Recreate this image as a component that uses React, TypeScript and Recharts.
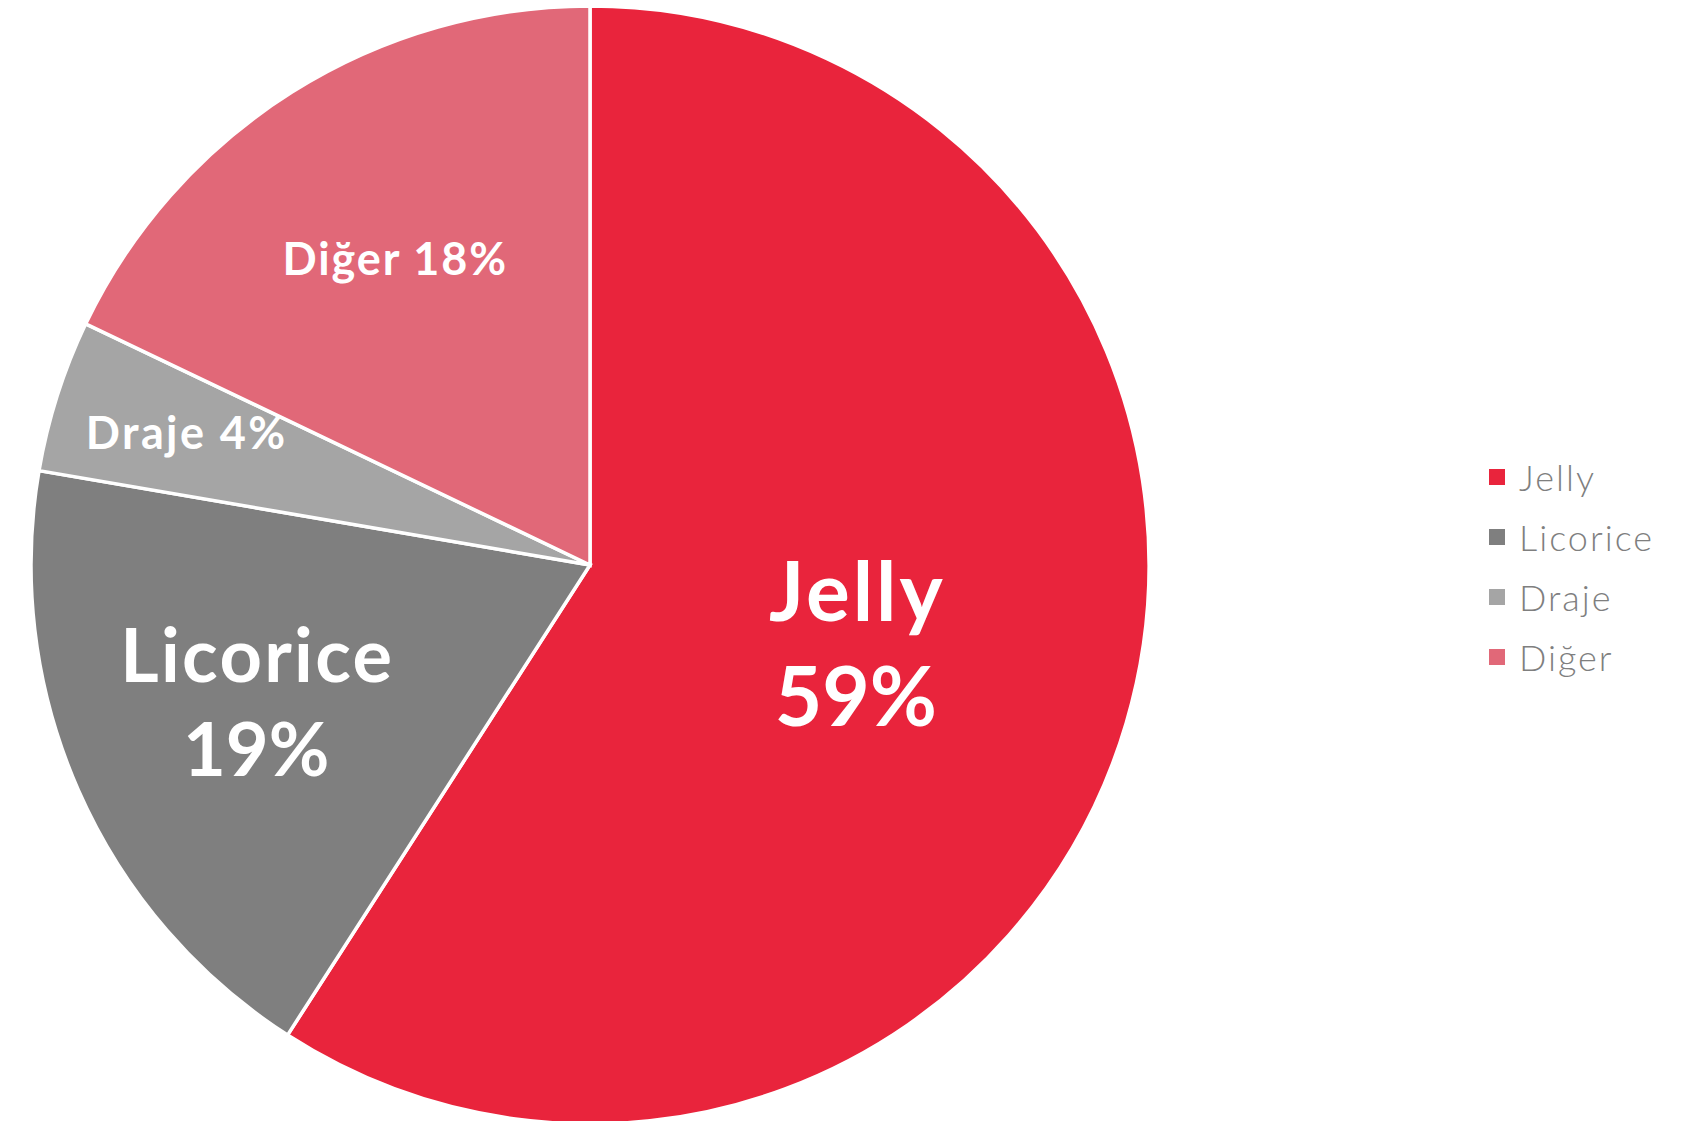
import React from 'react';
import { PieChart, Pie, Cell, Legend } from 'recharts';

const categories = ['Jelly', 'Licorice', 'Draje', 'Diğer'];
const shares = [59.1, 18.6, 4.4, 17.9];
const colors = ['#E9243C', '#7F7F7F', '#A5A5A5', '#E16878'];

// label layout per slice (radius fraction, angle nudge in degrees clockwise, font size, two-line)
const labelRadius = [0.495, 0.644, 0.762, 0.651];
const labelAngleNudge = [-0.3, 1.8, 0.6, -0.3];
const labelFont = [82, 74, 45, 45];
const labelNameSpacing = [3, 2.3, 2.4, 1.9];
const labelTwoLine = [true, true, false, false];
const labelGap = [105, 94, 0, 0];

const data = categories.map((name, i) => ({ name, value: shares[i] }));

const FONT = 'Lato, "Open Sans", sans-serif';
const RAD = Math.PI / 180;

const renderLabel = (props: any) => {
  const { cx, cy, midAngle, outerRadius, index, percent, name } = props;
  const r = outerRadius * labelRadius[index];
  const a = midAngle - labelAngleNudge[index];
  const x = cx + r * Math.cos(-a * RAD);
  const y = cy + r * Math.sin(-a * RAD);
  const pct = `${Math.round(percent * 100)}%`;
  const fs = labelFont[index];
  const ls = labelNameSpacing[index];
  if (labelTwoLine[index]) {
    const g = labelGap[index];
    return (
      <text
        x={x}
        y={y}
        fill="#FFFFFF"
        textAnchor="middle"
        dominantBaseline="central"
        fontFamily={FONT}
        fontWeight={700}
        fontSize={fs}
      >
        <tspan x={x + ls / 2} y={y - g / 2} letterSpacing={ls}>{name}</tspan>
        <tspan x={x} y={y + g / 2}>{pct}</tspan>
      </text>
    );
  }
  return (
    <text
      x={x + ls / 2}
      y={y}
      fill="#FFFFFF"
      textAnchor="middle"
      dominantBaseline="central"
      fontFamily={FONT}
      fontWeight={700}
      fontSize={fs}
      letterSpacing={ls}
    >
      {`${name} ${pct}`}
    </text>
  );
};

const renderLegend = (props: any) => {
  const payload = [...(props.payload || [])].sort(
    (a: any, b: any) => categories.indexOf(a.value) - categories.indexOf(b.value)
  );
  return (
    <ul style={{ listStyle: 'none', margin: 0, padding: 0 }}>
      {payload.map((entry: any, i: number) => (
        <li
          key={i}
          style={{
            display: 'flex',
            alignItems: 'center',
            height: 60,
            fontFamily: FONT,
            fontWeight: 300,
            fontSize: 36,
            letterSpacing: 2,
            color: '#7F7F7F',
          }}
        >
          <span
            style={{
              display: 'inline-block',
              width: 16,
              height: 16,
              background: entry.color,
              marginRight: 14,
            }}
          />
          <span>{entry.value}</span>
        </li>
      ))}
    </ul>
  );
};

export default function App() {
  return (
    <div style={{ position: 'absolute', left: 0, top: 0, width: 1691, height: 1121, background: '#FFFFFF' }}>
      <PieChart width={1691} height={1121} margin={{ top: 0, right: 0, bottom: 0, left: 0 }}>
        <Pie
          data={data}
          dataKey="value"
          nameKey="name"
          cx={590}
          cy={565}
          outerRadius={559}
          startAngle={90}
          endAngle={-270}
          stroke="#FFFFFF"
          strokeWidth={3.5}
          label={renderLabel}
          labelLine={false}
          isAnimationActive={false}
        >
          {data.map((d, i) => (
            <Cell key={d.name} fill={colors[i]} />
          ))}
        </Pie>
        <Legend
          content={renderLegend}
          layout="vertical"
          wrapperStyle={{ position: 'absolute', left: 1489, top: 447, width: 200 }}
        />
      </PieChart>
    </div>
  );
}
